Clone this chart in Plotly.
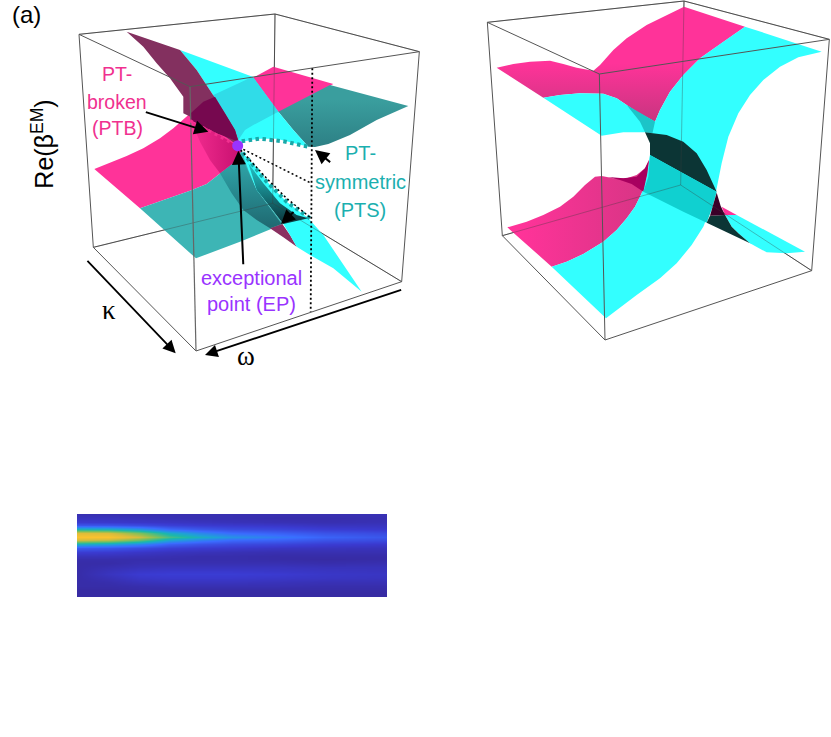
import plotly.graph_objects as go

# ---------- panel (a): visible sheet outlines (zoomed picture units)
A_PINK_BACK = [(750,238),(820,200),(1000,252),(835,338),(760,300)]
A_TEAL_RIGHT = [(990,255),(1225,318),(1130,360),(1050,405),(985,432),(945,441),(925,440),(880,390),(835,335)]
A_CYAN_UP = [(540,150),(758,230),(835,335),(880,390),(925,440),(880,428),(830,416),(780,416),(725,425),(715,420),(705,390),(675,340),(640,285),(590,210)]
A_CYAN_OVER_PINK = [(640,285),(758,230),(835,335),(790,358),(760,375),(735,390),(722,410),(715,420),(705,390),(675,340)]
A_PURPLE = [(380,95),(540,150),(590,210),(640,285),(675,340),(705,390),(715,420),(715,437),(690,420),(640,385),(550,340),(550,290),(510,235),(470,190),(430,140)]
A_PINK_LEFT = [(283,507),(330,488),(380,468),(430,445),(480,415),(520,385),(550,358),(572,340),(610,305),(640,285),(675,340),(705,390),(715,420),(725,450),(705,485),(660,520),(620,552),(570,572),(520,590),(470,608),(420,625)]
A_PURPLE_DARK = [(572,340),(610,305),(645,290),(675,340),(705,390),(715,425),(650,400),(572,360)]
A_PINK_DARK = [(575,365),(650,400),(712,438),(725,450),(705,485),(660,520),(630,480),(600,425)]
A_TEAL_LOW = [(420,625),(470,608),(520,590),(570,572),(620,552),(660,520),(705,485),(725,450),(770,570),(850,672),(720,725),(588,775)]
A_TEAL_BAND = [(660,520),(705,485),(725,470),(770,570),(845,672),(810,685),(770,660),(730,630),(695,580)]
A_PURPLE_TIP = [(810,685),(847,672),(870,705),(890,740),(850,712)]
A_CYAN_LOW = [(725,455),(770,505),(810,555),(860,605),(925,655),(970,705),(1085,875),(1000,805),(930,765),(890,740),(870,705),(850,672),(810,620),(770,570),(745,510)]
A_CYAN_SHADE = [(745,490),(790,550),(840,610),(890,645),(925,655),(850,672),(810,620),(770,570)]
A_BOX_BACK = [(825,42),(818,610)]
A_BOX_BOTTOM_L = [(280,742),(818,610),(1205,845)]
A_BOX_TOP = [(237,103),(825,42),(1258,155)]
A_BOX_FRONT = [(237,103),(570,260),(1258,155),(1205,845),(588,1053),(280,742),(237,103)]
A_BOX_FRONT_V = [(570,260),(588,1053)]
A_DOT_TEAL_1 = [(725,424),(780,416),(850,424),(930,441)]
A_DOT_TEAL_2 = [(728,458),(800,545),(860,605),(930,655)]
A_DOT_PINK = [(570,362),(712,438)]
A_DOT_BLACK_1 = [(730,448),(930,548)]
A_DOT_BLACK_2 = [(722,450),(800,535),(860,595),(930,652)]
A_DOT_V = [(937,205),(932,935)]
A_EP = [(713,437)]

# ---------- panel (b)
B_PINK_UP = [(80,203),(130,192),(180,185),(240,182),(280,192),(320,203),(370,212),(390,195),(430,150),(470,115),(530,75),(590,45),(642,20),(825,80),(760,125),(690,175),(640,225),(600,275),(570,330),(555,365),(500,335),(470,315),(440,295),(400,281),(330,280),(270,285),(220,293)]
B_CYAN_UPL = [(220,293),(270,285),(330,280),(400,281),(440,295),(470,315),(500,335),(555,365),(590,385),(630,420),(590,405),(525,397),(460,397),(395,407)]
B_CYAN_STRIP = [(470,315),(555,365),(590,385),(630,420),(590,405),(525,397),(510,365)]
B_CYAN_BIG = [(825,80),(1055,155),(985,172),(930,200),(880,240),(840,285),(805,340),(775,410),(755,490),(738,575),(720,630),(700,680),(665,735),(620,790),(570,835),(500,885),(408,955),(245,800),(290,785),(340,762),(400,725),(440,690),(470,655),(495,620),(515,580),(530,530),(540,465),(545,410),(555,365),(570,330),(600,275),(640,225),(690,175),(760,125)]
B_PINK_LOW = [(112,682),(245,800),(290,785),(340,762),(400,725),(440,690),(470,655),(495,620),(515,580),(530,530),(537,480),(525,505),(500,525),(470,535),(430,535),(395,528),(375,530),(345,555),(310,590),(270,620),(220,645),(170,665)]
B_CRIMSON = [(415,531),(460,535),(500,530),(525,505),(537,480),(532,520),(520,575),(485,552),(450,540)]
B_DARK = [(525,397),(590,405),(640,425),(680,460),(710,510),(740,575),(540,465),(540,430)]
B_CYAN_MID = [(540,465),(740,575),(728,620),(710,668),(640,635),(520,575),(535,530)]
B_CYAN_RIGHT = [(765,645),(800,645),(1005,755),(950,760),(890,757),(840,730),(805,700),(785,680)]
B_DARK_LOW = [(710,668),(720,647),(765,645),(785,680),(805,700),(840,730)]
B_CRIMSON_2 = [(720,647),(740,578),(752,618),(765,645)]
B_PINK_TIP = [(755,620),(800,645),(765,645)]
B_BOX_BACK = [(642,3),(632,555)]
B_BOX_BOTTOM_L = [(97,707),(632,555),(1025,812)]
B_BOX_TOP = [(52,67),(642,3),(1078,118)]
B_BOX_FRONT = [(52,67),(388,222),(1078,118),(1025,812),(405,1020),(97,707),(52,67)]
B_BOX_FRONT_V = [(388,222),(405,1020)]

# ---------- heat map
HEAT_X = [0, 0.1, 0.2, 0.3, 0.4, 0.5, 0.65, 0.8, 1.0]
HEAT_Y = [0,11,23,34,45,57,68,79,90,102,113,124,135,147,158,169,180,192,203,214,225,237,248]
HEAT_Z = [
 [.05,.05,.05,.05,.05,.05,.05,.05,.06],
 [.08,.08,.07,.06,.05,.05,.04,.04,.05],
 [.12,.11,.10,.09,.08,.07,.06,.05,.06],
 [.22,.21,.18,.14,.12,.11,.10,.08,.08],
 [.52,.50,.42,.28,.22,.18,.16,.13,.11],
 [.90,.88,.72,.50,.38,.30,.26,.21,.18],
 [1.0,1.0,.86,.62,.50,.41,.34,.27,.22],
 [.86,.82,.68,.46,.36,.29,.26,.21,.18],
 [.50,.46,.38,.26,.21,.18,.16,.13,.11],
 [.24,.22,.18,.14,.12,.11,.09,.08,.07],
 [.13,.12,.10,.08,.07,.06,.05,.05,.05],
 [.07,.07,.06,.05,.04,.04,.03,.03,.03],
 [.04,.04,.04,.04,.04,.04,.03,.02,.03],
 [.03,.03,.05,.05,.05,.05,.05,.04,.05],
 [.03,.05,.07,.08,.08,.08,.08,.07,.07],
 [.03,.07,.10,.11,.11,.11,.10,.09,.08],
 [.03,.08,.12,.13,.13,.13,.12,.10,.09],
 [.03,.06,.10,.11,.11,.11,.10,.09,.08],
 [.03,.04,.07,.08,.08,.08,.07,.06,.06],
 [.03,.03,.04,.05,.05,.05,.05,.04,.04],
 [.02,.02,.03,.03,.03,.03,.03,.03,.03],
 [.02,.02,.02,.02,.02,.02,.02,.02,.02],
 [.02,.02,.02,.02,.02,.02,.02,.02,.02],
]
HEAT_COLORS = [[0,"#36289a"],[.12,"#3a3ad0"],[.3,"#3a6cff"],[.45,"#1fa0d8"],[.55,"#1cb8a8"],[.72,"#80c05a"],[.87,"#d8bc3c"],[1,"#fbc22e"]]

PINK="#ff3399"; CYAN="#33ffff"; TEAL="#3a9e9e"; TEAL2="#3db5b5"
GREY="#555555"

fig = go.Figure()

def shape(pts, color, ax, grad=None):
    kw = dict(fillcolor=color)
    if grad:
        kind, start, stop, c0, c1 = grad
        kw = dict(fillgradient=dict(type=kind, start=start, stop=stop, colorscale=[[0,c0],[1,c1]]))
    fig.add_trace(go.Scatter(x=[p[0] for p in pts], y=[p[1] for p in pts], mode="lines",
        fill="toself", line=dict(width=0), hoverinfo="skip", showlegend=False,
        xaxis="x"+ax, yaxis="y"+ax, **kw))

def line(pts, color, width, ax, dash="solid"):
    fig.add_trace(go.Scatter(x=[p[0] for p in pts], y=[p[1] for p in pts], mode="lines",
        line=dict(color=color, width=width, dash=dash), hoverinfo="skip", showlegend=False,
        xaxis="x"+ax, yaxis="y"+ax))

# panel a
for L in (A_BOX_BACK, A_BOX_BOTTOM_L, A_BOX_TOP):
    line(L, GREY, 1, "")
shape(A_PINK_BACK, PINK, "")
shape(A_TEAL_RIGHT, TEAL, "", ("vertical", 300, 440, "#3a9e9e", "#2d8085"))
shape(A_PINK_LEFT, PINK, "")
shape(A_TEAL_LOW, TEAL2, "")
shape(A_TEAL_BAND, "#237f86", "", ("vertical", 500, 680, "#2ea0a4", "#1f6a72"))
shape(A_PINK_DARK, "#d8187f", "", ("horizontal", 590, 720, "#ee2a8c", "#c81070"))
shape(A_PURPLE_TIP, "#8b3060", "")
shape(A_CYAN_LOW, CYAN, "")
shape(A_CYAN_SHADE, "#156c70", "", ("vertical", 490, 660, "#22c4c8", "#0c3c42"))
shape(A_CYAN_UP, CYAN, "")
shape(A_CYAN_OVER_PINK, "#30dce8", "")
shape(A_PURPLE, "#83305f", "")
shape(A_PURPLE_DARK, "#76084f", "")
for L in (A_BOX_BACK, A_BOX_BOTTOM_L, A_BOX_TOP):
    line(L, "rgba(60,60,60,0.35)", 1, "")
line(A_BOX_FRONT, GREY, 1, "")
line(A_BOX_FRONT_V, "#666666", 1.2, "")
line(A_DOT_TEAL_1, "#19a8a8", 4, "", "3.5px,3.5px")
line(A_DOT_TEAL_2, "#19a8a8", 4, "", "3.5px,3.5px")
line(A_DOT_PINK, "#f0308f", 3, "", "3px,4px")
line(A_DOT_BLACK_1, "black", 1.5, "", "2px,2.5px")
line(A_DOT_BLACK_2, "black", 1.5, "", "2px,2.5px")
line(A_DOT_V, "black", 1.8, "", "2px,2.5px")
fig.add_trace(go.Scatter(x=[p[0] for p in A_EP], y=[p[1] for p in A_EP], mode="markers",
    marker=dict(color="#9933ff", size=11), hoverinfo="skip", showlegend=False))

# panel b
for L in (B_BOX_BACK, B_BOX_BOTTOM_L, B_BOX_TOP):
    line(L, GREY, 1, "2")
shape(B_PINK_UP, PINK, "2", ("vertical", 190, 360, "#ff3399", "#c93580"))
shape(B_CYAN_UPL, CYAN, "2")
shape(B_CYAN_STRIP, "#1cc4c8", "2")
shape(B_PINK_LOW, PINK, "2", ("horizontal", 150, 520, "#ff3399", "#d83585"))
shape(B_CYAN_BIG, CYAN, "2")
shape(B_CRIMSON, "#a8005f", "2")
shape(B_DARK, "#0c3535", "2")
shape(B_CYAN_MID, "#10d0d0", "2")
shape(B_PINK_TIP, PINK, "2")
shape(B_CYAN_RIGHT, CYAN, "2")
shape(B_DARK_LOW, "#0c3535", "2")
shape(B_CRIMSON_2, "#3a0028", "2")
for L in (B_BOX_BACK, B_BOX_BOTTOM_L, B_BOX_TOP):
    line(L, "rgba(60,60,60,0.35)", 1, "2")
line(B_BOX_FRONT, GREY, 1, "2")
line(B_BOX_FRONT_V, GREY, 1, "2")

# heat map
fig.add_trace(go.Heatmap(x=HEAT_X, y=HEAT_Y, z=HEAT_Z, colorscale=HEAT_COLORS, zmin=0, zmax=1,
    zsmooth="best", showscale=False, hoverinfo="skip", xaxis="x3", yaxis="y3"))

W, H = 831, 737
def hidden(**k):
    return dict(visible=False, fixedrange=True, **k)

def T(x, y, s, color, size, fam="Liberation Sans", angle=0):
    return dict(x=x, y=y, text=s, showarrow=False, xref="x", yref="y", textangle=angle,
                font=dict(color=color, size=size, family=fam), xanchor="center", yanchor="middle")

def A(x0, y0, x1, y1, w=2):
    return dict(x=x1, y=y1, ax=x0, ay=y0, xref="x", yref="y", axref="x", ayref="y", text="",
                showarrow=True, arrowhead=2, arrowsize=1.4, arrowwidth=w, arrowcolor="black")

pink_t = "#f0308f"; teal_t = "#1bafaf"; purp_t = "#9933ff"
annotations = [
    T(80,42,"(a)","black",24),
    T(128,432,"Re(β<sup>EM</sup>)","black",25,angle=-90),
    T(352,222,"PT-",pink_t,19.5), T(352,305,"broken",pink_t,19.5), T(352,384,"(PTB)",pink_t,19.5),
    T(1080,458,"PT-",teal_t,20), T(1080,545,"symmetric",teal_t,20), T(1080,630,"(PTS)",teal_t,20),
    T(755,835,"exceptional",purp_t,20), T(755,912,"point (EP)",purp_t,20),
    T(328,930,"κ","black",27,"Liberation Serif"), T(737,1068,"ω","black",27,"Liberation Serif"),
    A(433,335,625,395), A(730,797,715,452), A(995,490,945,450), A(885,632,843,672),
    A(258,778,527,1060,1.8), A(1208,868,615,1065,1.8),
]

fig.update_layout(
    width=W, height=H, margin=dict(l=0,r=0,t=0,b=0), paper_bgcolor="white", plot_bgcolor="white",
    xaxis=hidden(domain=[0,420/W], range=[0,1260]),
    yaxis=hidden(domain=[1-370/H,1], range=[1110,0]),
    xaxis2=hidden(domain=[470/W,1], range=[0,1083]),
    yaxis2=hidden(domain=[1-350/H,1], range=[1050,0]),
    xaxis3=hidden(domain=[77/W,387/W], range=[0,1]),
    yaxis3=hidden(domain=[1-597/H,1-514/H], range=[248,0]),
    annotations=annotations, showlegend=False,
)
fig.write_html("out.html", config=dict(displayModeBar=False), post_script="document.body.style.margin='0';")
